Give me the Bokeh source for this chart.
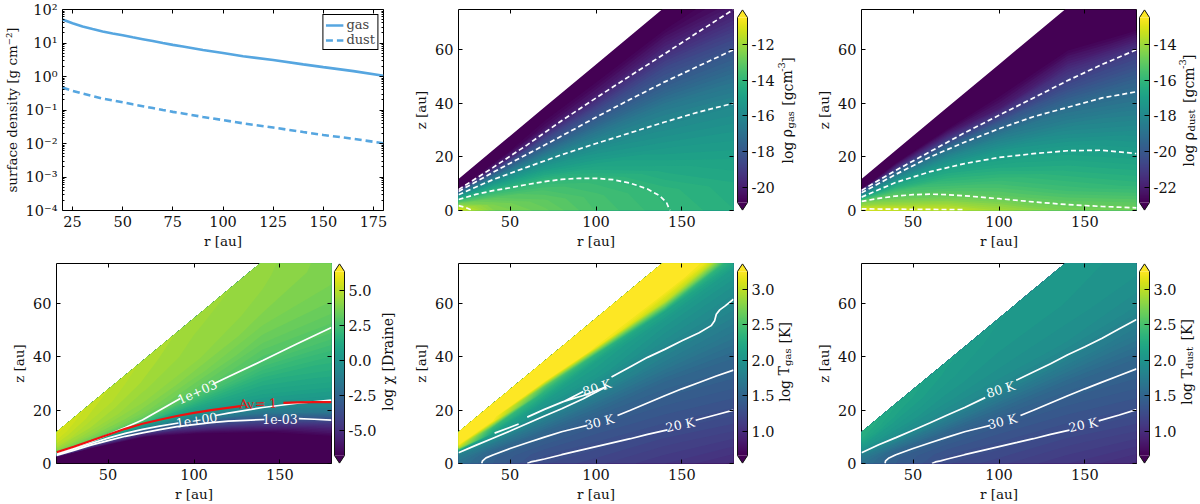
import math

import numpy as np
from bokeh.core.properties import value
from bokeh.embed import file_html
from bokeh.layouts import column, row
from bokeh.models import (FixedTicker, Legend, LegendItem, LinearAxis,
                          LinearColorMapper, LogAxis, Range1d)
from bokeh.palettes import Viridis256, linear_palette
from bokeh.plotting import figure
from bokeh.resources import INLINE

nan = float("nan")
FONT = "DejaVu Serif"
TICK_SIZE = "14.5px"
LABEL_SIZE = "13.5px"

# surface density panel
SIGMA_R = [20, 25, 30, 35, 40, 45, 50, 55, 60, 65, 70, 75, 80, 90, 100, 110, 125, 140, 150, 165, 180]
SIGMA_GAS = [50, 39, 31, 26, 22, 19.3, 17, 14.8, 13, 11.4, 10, 8.8, 7.9, 6.2, 5, 4, 3.1, 2.3, 1.9, 1.45, 1.05]
SIGMA_DUST = [.47, .375, .31, .26, .22, .193, .17, .148, .13, .114, .1, .088, .079, .062, .05, .04, .03,
              .022, .018, .0138, .0102]
SIGMA_XTICKS = [25, 50, 75, 100, 125, 150, 175]
SIGMA_YTICKS = [1e-4, 1e-3, 1e-2, 1e-1, 1e0, 1e1, 1e2]
SIGMA_YLABELS = ["10⁻⁴", "10⁻³", "10⁻²", "10⁻¹", "10⁰", "10¹", "10²"]

# the disk fields are tabulated per radius, on fractions of the wedge height
WEDGE_OFFSET = 1.1
WEDGE_SLOPE = 0.534
R_GRID = [20, 40, 70, 100, 140, 180]
H_ELEVEN = [0, .1, .2, .3, .4, .5, .6, .7, .8, .9, 1]
H_CHI = [0, .1, .15, .2, .25, .3, .35, .4, .45, .5, .6, .7, .8, .9, 1]
H_TGAS = [0, .1, .2, .3, .4, .5, .6, .7, .75, .8, .85, .9, 1]

RHO_GAS = [
    [-11.0, -11.6, -12.5, -13.5, -14.7, -16.0, -18.0, -21.5, -22, -22, -22],
    [-12.4, -12.6, -13.1, -13.9, -14.8, -15.9, -17.6, -19.8, -21.5, -22, -22],
    [-12.9, -13.1, -13.5, -14.1, -15.1, -16.0, -17.4, -18.7, -20.3, -21.8, -22],
    [-13.5, -13.6, -13.9, -14.7, -15.5, -16.35, -17.5, -18.7, -20.1, -21.5, -22],
    [-13.97, -14.1, -14.6, -15.2, -15.8, -16.5, -17.6, -18.5, -19.7, -20.8, -21.7],
    [-14.35, -14.5, -14.9, -15.4, -15.95, -16.9, -17.9, -19.1, -20.3, -21.3, -22],
]
RHO_DUST = [
    [-12.6, -13.6, -14.3, -15.0, -16.7, -18.0, -20.0, -23.0, -24.5, -25, -25],
    [-13.0, -14.1, -14.8, -15.4, -16.4, -17.4, -18.7, -21.2, -24.0, -25, -25],
    [-13.3, -14.5, -15.4, -16.1, -16.8, -17.8, -19.0, -21.2, -23.7, -25, -25],
    [-13.9, -15.1, -15.8, -16.6, -17.3, -18.4, -19.9, -22.0, -23.7, -25, -25],
    [-14.6, -15.7, -16.4, -17.05, -18.0, -19.0, -20.3, -21.5, -23.3, -25, -25],
    [-14.7, -16.1, -16.9, -17.7, -18.6, -19.6, -20.8, -23.8, -25, -25, -25],
]
CHI = [
    [-8, -8, -8, -8, -4, 1, 3.2, 3.9, 4.3, 4.6, 5, 5.2, 5.4, 5.5, 5.7],
    [-8, -8, -8, -8, -6.6, -3.7, .6, 3.4, 3.9, 4.2, 4.6, 4.8, 5, 5.1, 5.2],
    [-8, -8, -8, -8, -6.8, -4.1, -.5, 2.2, 3.4, 3.8, 4.2, 4.4, 4.6, 4.7, 4.8],
    [-8, -8, -8, -7.5, -4.5, -1.6, .5, 1.5, 2.5, 3.2, 3.8, 4.2, 4.3, 4.4, 4.5],
    [-8, -8, -7.6, -4.3, -1.5, .3, .9, 1.4, 2, 2.6, 3.3, 3.8, 4.1, 4.2, 4.3],
    [-8, -8, -4.8, -1.4, .2, .9, 1.4, 1.8, 2.3, 2.8, 3.4, 3.75, 3.85, 3.9, 3.9],
]
TGAS = [
    [1.65, 1.68, 1.74, 1.83, 2.15, 3.0, 3.3, 3.3, 3.3, 3.3, 3.3, 3.3, 3.3],
    [1.45, 1.46, 1.52, 1.68, 1.9, 2.15, 2.4, 3.2, 3.3, 3.3, 3.3, 3.3, 3.3],
    [1.28, 1.33, 1.42, 1.52, 1.72, 1.94, 2.08, 2.35, 2.6, 3.25, 3.3, 3.3, 3.3],
    [1.2, 1.28, 1.36, 1.45, 1.62, 1.87, 2.05, 2.15, 2.35, 3.2, 3.3, 3.3, 3.3],
    [1.1, 1.2, 1.32, 1.42, 1.53, 1.75, 1.92, 2.05, 2.2, 3.0, 3.3, 3.3, 3.3],
    [1.0, 1.15, 1.3, 1.42, 1.53, 1.7, 1.86, 2.0, 2.1, 2.35, 3.1, 3.3, 3.3],
]
TDUST = [
    [1.65, 1.68, 1.74, 1.83, 1.95, 2.05, 2.12, 2.2, 2.25, 2.28, 2.3],
    [1.45, 1.46, 1.52, 1.68, 1.88, 1.98, 2.05, 2.1, 2.15, 2.18, 2.2],
    [1.28, 1.33, 1.42, 1.52, 1.72, 1.9, 1.98, 2.03, 2.07, 2.1, 2.12],
    [1.2, 1.28, 1.36, 1.45, 1.62, 1.85, 1.95, 2.0, 2.03, 2.05, 2.07],
    [1.1, 1.2, 1.32, 1.42, 1.55, 1.78, 1.93, 1.98, 2.02, 2.03, 2.05],
    [1.0, 1.15, 1.3, 1.42, 1.53, 1.72, 1.88, 1.97, 2.0, 2.02, 2.03],
]

# contour lines (nan = gap for a label)
R_NINE = [20, 40, 60, 80, 100, 120, 140, 160, 180]
GAS_12 = ([20, 24, 28], [1.8, 1.2, 0])
GAS_14 = ([20, 30, 40, 50, 60, 70, 80, 90, 100, 110, 120, 130, 137, 141, 143],
          [4.1, 6, 7.4, 8.5, 9.7, 10.8, 11.6, 12, 12, 11.5, 10.2, 8, 5.5, 3, 0])
GAS_16 = (R_NINE, [5.9, 11.5, 16.2, 20.8, 25, 29, 33, 36.8, 40])
GAS_18 = (R_NINE, [7.1, 14.2, 21, 27.8, 34.8, 41.5, 48, 54, 60])
GAS_20 = (R_NINE, [7.8, 16, 24.5, 33.5, 42, 50.3, 58.5, 66.8, 75])
DUST_13 = ([20, 40, 60, 80], [0.6, 0.5, 0.4, 0.3])
DUST_15 = ([20, 30, 40, 50, 60, 70, 80, 100, 120, 140, 160, 180],
           [3.4, 4.5, 5.4, 5.9, 6.1, 5.9, 5.5, 4.4, 3.2, 2.2, 1.5, 1.0])
DUST_17 = (R_NINE, [5, 10.5, 14.5, 17.5, 19.8, 21.2, 22.3, 22.5, 21.2])
DUST_19 = (R_NINE, [6.6, 13.5, 20, 25.5, 30.5, 35, 38.5, 42, 44.3])
DUST_21 = (R_NINE, [7.5, 15, 22, 29, 35.5, 42, 48.5, 54.5, 60])

CHI_1E3 = ([20, 30, 40, 50, 60, 70, 80, 92, nan, 111.5, 120, 140, 160, 180],
           [3.9, 6, 8.2, 10.8, 13.5, 16.3, 20, 24.4, nan, 29.9, 32.5, 38.6, 44.9, 51])
CHI_1E0 = ([20, 30, 40, 50, 60, 70, 80, 91, nan, 112.5, 120, 140, 160, 180],
           [3.4, 5.5, 7.5, 9.5, 11.3, 12.8, 14, 15.2, nan, 18, 18.9, 21, 22.6, 23.8])
CHI_1EM3 = ([20, 30, 40, 50, 60, 70, 80, 90, 100, 110, 120, 130, 141, nan, 161, 170, 180],
            [3, 4.9, 6.9, 8.6, 10.2, 11.5, 12.7, 13.8, 14.6, 15.3, 15.9, 16.2, 16.5, nan, 16.8, 16.6, 16.3])
CHI_AV = ([20, 30, 40, 50, 60, 70, 80, 90, 100, 110, 127, nan, 152, 160, 170, 180],
          [4.2, 6.3, 8.5, 10.8, 13, 14.9, 16.4, 17.8, 19, 20, 21.5, nan, 22.7, 22.9, 23, 23])

TGAS_80_LOW = ([20, 30, 40, 50, 60, 70, 80, 92.6, 106],
               [4, 6.8, 9.5, 12.2, 15, 17.8, 20.5, 24.3, 28.8])
TGAS_80_UP = ([60, 70, 81, 92.6, nan, 81, 92.6, 106, nan, 41, 55],
              [17.4, 20.3, 23.2, 27, nan, 23.2, 25.5, 28.8, nan, 11.4, 14.8])
TGAS_80_TOP = ([109, 120, 130, 140, 150, 160, 167, 169, 170, 172, 175, 180],
               [32.4, 36.3, 39.8, 42.8, 46, 49, 51.7, 53.5, 56, 57.6, 59, 61.6])
TGAS_30 = ([33.5, 34, 36, 40, 50, 60, 70, 80, 90, 95, nan, 112.5, 120, 130, 140, 150, 160, 170, 180],
           [0, 1, 2.1, 3.2, 5.6, 7.8, 9.9, 11.9, 13.5, 14.3, nan, 18, 20, 22.7, 25.4, 28, 30.4, 32.8, 35])
TGAS_20 = ([60, 62, 65, 70, 80, 90, 100, 110, 120, 130, 141.6, nan, 158, 170, 180],
           [0, .6, 1, 1.7, 3.3, 4.8, 6.3, 7.8, 9.3, 10.9, 12.6, nan, 16.2, 18.3, 20])
TDUST_80 = ([20, 30, 40, 50, 60, 70, 80, 92, nan, 110, 120, 130, 140, 150, 160, 170, 180],
            [4, 7, 9.7, 12.5, 15.3, 18.2, 21, 24.7, nan, 31.2, 34.3, 37.4, 40.8, 43.8, 47, 50.5, 54])
TDUST_30 = ([33.7, 34, 36, 40, 50, 60, 70, 80, 90, 95, nan, 112.5, 120, 130, 140, 150, 160, 170, 180],
            [0, 1, 2.1, 3.3, 5.6, 7.8, 9.9, 11.9, 13.5, 14.3, nan, 18, 20, 22.7, 25.4, 28, 30.5, 33, 35.5])
TDUST_20 = ([61, 63, 66, 70, 80, 90, 100, 110, 120, 130, 141, nan, 158, 170, 180],
            [0, .6, 1, 1.7, 3.3, 4.8, 6.3, 7.8, 9.3, 10.9, 12.5, nan, 16, 18.2, 20.2])

# colorbar ticks
GAS_TICKS = [-12, -14, -16, -18, -20]
DUST_TICKS = [-14, -16, -18, -20, -22]
CHI_TICKS = [5, 2.5, 0, -2.5, -5]
CHI_TICK_LABELS = ["5.0", "2.5", "0.0", "-2.5", "-5.0"]
T_TICKS = [3, 2.5, 2, 1.5, 1]
T_TICK_LABELS = ["3.0", "2.5", "2.0", "1.5", "1.0"]


def style_axis(axis):
    axis.axis_line_color = None
    axis.major_tick_in = 4
    axis.major_tick_out = 0
    axis.minor_tick_in = 2
    axis.minor_tick_out = 0
    axis.major_tick_line_color = "black"
    axis.minor_tick_line_color = "black"
    axis.major_label_text_font = FONT
    axis.major_label_text_font_size = TICK_SIZE
    axis.major_label_text_color = "#111111"
    axis.major_label_standoff = 5
    axis.axis_label_text_font = FONT
    axis.axis_label_text_font_size = LABEL_SIZE
    axis.axis_label_text_font_style = "normal"
    axis.axis_label_text_color = "#111111"
    axis.axis_label_standoff = 3


def blank_axis(axis_type, ticker, ticks):
    axis = axis_type(ticker=ticker)
    style_axis(axis)
    axis.major_label_overrides = {t: "" for t in ticks}
    axis.major_label_standoff = 0
    return axis


def base_figure(width, height, left, right, top, bottom, **kwargs):
    p = figure(width=width, height=height, min_border_left=left, min_border_right=right,
               min_border_top=top, min_border_bottom=bottom, toolbar_location=None,
               tools="", output_backend="svg", **kwargs)
    p.grid.visible = False
    p.outline_line_color = "black"
    p.outline_line_width = 1
    return p


def sigma_panel():
    p = base_figure(400, 252, 57, 17, 9, 42, y_axis_type="log",
                    x_range=Range1d(20, 180), y_range=Range1d(1e-4, 1e2))
    minors = [m * 10.0 ** k for k in range(-4, 2) for m in range(2, 10)]
    yticker = FixedTicker(ticks=SIGMA_YTICKS, minor_ticks=minors)
    xticker = FixedTicker(ticks=SIGMA_XTICKS)
    p.xaxis.ticker = xticker
    p.yaxis.ticker = yticker
    style_axis(p.xaxis[0])
    style_axis(p.yaxis[0])
    p.yaxis.major_label_overrides = dict(zip(SIGMA_YTICKS, SIGMA_YLABELS))
    p.xaxis.axis_label = "r [au]"
    p.yaxis.axis_label = "surface density [g cm⁻²]"
    p.add_layout(blank_axis(LinearAxis, xticker, SIGMA_XTICKS), "above")
    p.add_layout(blank_axis(LogAxis, yticker, SIGMA_YTICKS), "right")

    gas = p.line(SIGMA_R, SIGMA_GAS, line_color="#56a6e0", line_width=2.6)
    dust = p.line(SIGMA_R, SIGMA_DUST, line_color="#56a6e0", line_width=2.6, line_dash=[7, 4])
    legend = Legend(items=[LegendItem(label="gas", renderers=[gas]),
                           LegendItem(label="dust", renderers=[dust])],
                    location="top_right", margin=5, padding=2, spacing=0,
                    border_line_color="black", border_line_width=1.2, border_line_alpha=1,
                    label_text_font=FONT, label_text_font_size="13px",
                    label_height=12, glyph_height=12, glyph_width=18, label_standoff=3)
    p.add_layout(legend)
    return p


def disk_panel(width, left, top, bottom, field, heights, vmin, vmax):
    p = base_figure(width, 252, left, 1, top, bottom,
                    x_range=Range1d(20, 180), y_range=Range1d(0, 75))
    xticks = [50, 100, 150]
    yticks = [0, 20, 40, 60]
    xticker = FixedTicker(ticks=xticks)
    yticker = FixedTicker(ticks=yticks)
    p.xaxis.ticker = xticker
    p.yaxis.ticker = yticker
    style_axis(p.xaxis[0])
    style_axis(p.yaxis[0])
    p.xaxis.axis_label = "r [au]"
    p.yaxis.axis_label = "z [au]"
    p.add_layout(blank_axis(LinearAxis, xticker, xticks), "above")
    p.add_layout(blank_axis(LinearAxis, yticker, yticks), "right")

    r = np.array(R_GRID, dtype=float)
    h = np.array(heights, dtype=float)
    x = np.tile(r, (len(h), 1))
    y = np.outer(h, WEDGE_OFFSET + WEDGE_SLOPE * r)
    z = np.clip(np.array(field, dtype=float).T, vmin + 1e-6, vmax - 1e-6)
    levels = np.linspace(vmin, vmax, 60)
    colors = linear_palette(Viridis256, len(levels) - 1)
    # painted from low to high, each band over the last one, so no seams show
    for level, color in zip(levels[:-1], colors):
        p.contour(x, y, z, [level, vmax], fill_color=[color], line_color=None)
    return p


def add_lines(p, lines, color="white", width=1.7, dash="solid"):
    for rs, zs in lines:
        p.line(rs, zs, line_color=color, line_width=width, line_dash=dash)


def add_tag(p, text, r, z, angle_deg, color="white", size="12.5px"):
    p.text([r], [z], text=[text], angle=[math.radians(angle_deg)], text_color=color,
           text_font=value(FONT), text_font_size=size, text_align="center", text_baseline="middle")


def colorbar(width, left, top, bottom, vmin, vmax, ticks, labels, title, base_x, start_y):
    # the frame fills the whole width, x is in pixels; the axis sits at the strip edge
    ext = (vmax - vmin) * 8.0 / 185.0
    x0, x1 = left, left + 10
    mid = (x0 + x1) / 2
    p = figure(width=width, height=252, min_border_left=0, min_border_right=0,
               min_border_top=top, min_border_bottom=bottom, toolbar_location=None, tools="",
               output_backend="svg", y_axis_location="right", x_range=Range1d(0, width),
               y_range=Range1d(vmin - ext, vmax + ext))
    p.grid.visible = False
    p.outline_line_color = None
    p.xaxis.visible = False
    p.extra_y_ranges = {"px": Range1d(0, 201)}
    mapper = LinearColorMapper(palette=Viridis256, low=vmin, high=vmax)
    strip = np.linspace(vmin, vmax, 256).reshape(256, 1)
    p.image(image=[strip], x=x0, y=vmin, dw=10, dh=vmax - vmin, color_mapper=mapper)
    p.patch([x0, mid, x1], [vmax, vmax + ext * 0.96, vmax], fill_color=Viridis256[-1], line_color=None)
    p.patch([x0, mid, x1], [vmin, vmin - ext * 0.96, vmin], fill_color=Viridis256[0], line_color=None)
    p.line([x0, x0, mid, x1, x1, mid, x0], [vmin, vmax, vmax + ext * 0.96, vmax, vmin, vmin - ext * 0.96, vmin],
           line_color="#111111", line_width=1)

    axis = p.yaxis[0]
    style_axis(axis)
    axis.ticker = FixedTicker(ticks=ticks)
    axis.fixed_location = x1
    axis.major_tick_in = 5
    axis.major_label_standoff = 4
    axis.major_label_overrides = dict(zip(ticks, labels))

    # the title is rotated, with smaller pieces for sub- and superscripts
    for text, size, along, shift in title:
        p.text([base_x + shift], [start_y + along], text=[text], angle=[math.pi / 2], y_range_name="px",
               text_font=value(FONT), text_font_size=size, text_color="#111111",
               text_align="left", text_baseline="alphabetic")
    return p


BIG = "14px"
SMALL = "10px"


def density_title(word):
    # word is the subscript of rho
    w = len(word) * 5.9
    return [("log ρ", BIG, 0, 0), (word, SMALL, 35, 3),
            ("[gcm", BIG, 40 + w, 0), ("-3", SMALL, 74 + w, -6), ("]", BIG, 83 + w, 0)]


def temp_title(word):
    w = len(word) * 5.9
    return [("log T", BIG, 0, 0), (word, SMALL, 36, 3), ("[K]", BIG, 41 + w, 0)]


# first row
p1 = sigma_panel()

p2 = disk_panel(334, 58, 9, 42, RHO_GAS, H_ELEVEN, -20.85, -10.5)
add_lines(p2, [GAS_12, GAS_14, GAS_16, GAS_18, GAS_20], dash=[5, 3])
cb2 = colorbar(66, 3, 9, 42, -20.85, -10.5, GAS_TICKS, [str(t) for t in GAS_TICKS],
               density_title("gas"), 53, 47)

p3 = disk_panel(337, 61, 9, 42, RHO_DUST, H_ELEVEN, -22.85, -12.5)
add_lines(p3, [DUST_13, DUST_15, DUST_17, DUST_19, DUST_21], dash=[5, 3])
cb3 = colorbar(63, 2, 9, 42, -22.85, -12.5, DUST_TICKS, [str(t) for t in DUST_TICKS],
               density_title("dust"), 51, 44)

# second row
p4 = disk_panel(332, 56, 11, 40, CHI, H_CHI, -6.8, 6.4)
add_lines(p4, [CHI_1E3, CHI_1E0, CHI_1EM3])
add_lines(p4, [CHI_AV], color="#f01010", width=2.2)
add_tag(p4, "1e+03", 101.8, 27, 24)
add_tag(p4, "1e+00", 101.5, 16.5, 9)
add_tag(p4, "1e-03", 150, 16.8, 0)
add_tag(p4, "A", 129, 22.4, 3, color="#f01010")
add_tag(p4, "V", 133, 21.6, 3, color="#f01010", size="9px")
add_tag(p4, "=  1", 143, 22.6, 2, color="#f01010")
cb4 = colorbar(68, 2, 11, 40, -6.8, 6.4, CHI_TICKS, CHI_TICK_LABELS,
               [("log χ [Draine]", BIG, 0, 0)], 55, 53)

p5 = disk_panel(334, 58, 11, 40, TGAS, H_TGAS, 0.66, 3.25)
add_lines(p5, [TGAS_80_LOW, TGAS_80_UP, TGAS_80_TOP, TGAS_30, TGAS_20])
add_tag(p5, "80 K", 100.5, 28.5, 18)
add_tag(p5, "30 K", 102, 15.6, 14)
add_tag(p5, "20 K", 149, 14.5, 12)
cb5 = colorbar(66, 3, 11, 40, 0.66, 3.25, T_TICKS, T_TICK_LABELS, temp_title("gas"), 50, 62)

p6 = disk_panel(337, 61, 11, 40, TDUST, H_ELEVEN, 0.66, 3.25)
add_lines(p6, [TDUST_80, TDUST_30, TDUST_20])
add_tag(p6, "80 K", 101, 27.8, 17)
add_tag(p6, "30 K", 102, 15.8, 14)
add_tag(p6, "20 K", 149, 14.5, 12)
cb6 = colorbar(63, 2, 11, 40, 0.66, 3.25, T_TICKS, T_TICK_LABELS, temp_title("dust"), 49, 59)

top_row = row(p1, p2, cb2, p3, cb3, spacing=0)
bottom_row = row(p4, cb4, p5, cb5, p6, cb6, spacing=0)
page = column(top_row, bottom_row, spacing=0)

open("out.html", "w").write(file_html(page, INLINE))
